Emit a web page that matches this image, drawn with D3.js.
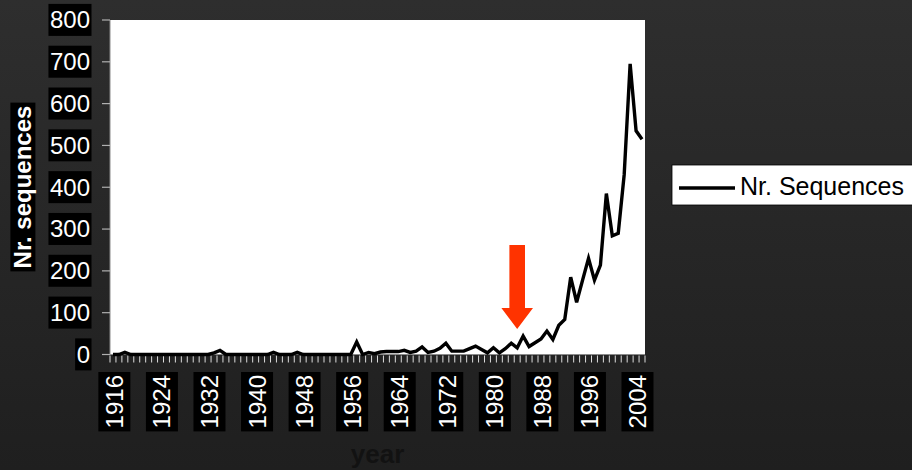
<!DOCTYPE html>
<html>
<head>
<meta charset="utf-8">
<script src="https://cdn.jsdelivr.net/npm/d3@7/dist/d3.min.js"></script>
<style>
  html, body { margin: 0; padding: 0; background: #252525; }
  svg { display: block; }
  text { font-family: "Liberation Sans", Arial, sans-serif; }
</style>
</head>
<body>
<svg id="chart" width="912" height="470"></svg>
<script>
// Number of sequences submitted per year
const years = d3.range(1916, 2006);
const sequences = [
  0, 0, 5, 0, 0, 0, 0, 0, 0, 0,        // 1916-1925
  0, 0, 0, 0, 0, 0, 0, 4, 10, 0,       // 1926-1935
  0, 0, 0, 0, 0, 0, 0, 5, 0, 0,        // 1936-1945
  0, 5, 0, 0, 0, 0, 0, 0, 0, 0,        // 1946-1955
  0, 30, 0, 5, 2, 6, 7, 7, 7, 10,      // 1956-1965
  5, 8, 18, 5, 8, 15, 27, 8, 8, 8,     // 1966-1975
  14, 20, 12, 4, 16, 4, 14, 27, 16, 44, // 1976-1985
  19, 28, 37, 56, 36, 70, 84, 185, 125, 178, // 1986-1995
  230, 178, 214, 385, 284, 290, 430, 695, 535, 515 // 1996-2005
];
const yTicks = [0, 100, 200, 300, 400, 500, 600, 700, 800];
const labelYears = d3.range(1916, 2006, 8);
const seriesName = "Nr. Sequences";
const yTitle = "Nr. sequences";
const xTitle = "year";
// highlighted year and the value span covered by the arrow
const arrowYear = 1984;
const arrowFrom = 262, arrowHeadAt = 111, arrowTo = 61;

const svg = d3.select("#chart");
const W = 912, H = 470;
const plot = { left: 110, right: 645, top: 20, bottom: 354.5 };

// dark backdrop
const defs = svg.append("defs");
const grad = defs.append("linearGradient").attr("id", "bg").attr("x1", 0).attr("y1", 0).attr("x2", 0).attr("y2", 1);
grad.append("stop").attr("offset", "0%").attr("stop-color", "#2e2e2e");
grad.append("stop").attr("offset", "100%").attr("stop-color", "#1f1f1f");
svg.append("rect").attr("width", W).attr("height", H).attr("fill", "url(#bg)");

const x = d3.scaleBand().domain(years).range([plot.left, plot.right]).padding(0);
const y = d3.scaleLinear().domain([0, 800]).range([plot.bottom, plot.top]);
const cx = yr => x(yr) + x.bandwidth() / 2;

// plot area
svg.append("rect")
  .attr("x", plot.left).attr("y", plot.top)
  .attr("width", plot.right - plot.left).attr("height", plot.bottom - plot.top)
  .attr("fill", "#ffffff");

// y axis: ticks and boxed labels
const yAxis = svg.append("g");
yAxis.append("line")
  .attr("x1", plot.left).attr("x2", plot.left)
  .attr("y1", plot.top).attr("y2", plot.bottom)
  .attr("stroke", "#8a8a8a").attr("stroke-width", 1);
yTicks.forEach(v => {
  yAxis.append("line")
    .attr("x1", plot.left - 8).attr("x2", plot.left)
    .attr("y1", y(v)).attr("y2", y(v))
    .attr("stroke", "#b0b0b0").attr("stroke-width", 1.2);
  const g = yAxis.append("g").attr("transform", `translate(90,${y(v)})`);
  const t = g.append("text")
    .attr("text-anchor", "end").attr("dy", "0.35em")
    .attr("font-size", 24).attr("fill", "#ffffff")
    .text(v);
  const b = t.node().getBBox();
  g.insert("rect", "text")
    .attr("x", b.x - 1.5).attr("y", b.y - 2.5)
    .attr("width", b.width + 3).attr("height", b.height + 5)
    .attr("fill", "#000000");
});

// x axis: category tick marks between years
const xAxis = svg.append("g");
xAxis.append("line")
  .attr("x1", plot.left).attr("x2", plot.right)
  .attr("y1", plot.bottom).attr("y2", plot.bottom)
  .attr("stroke", "#8a8a8a").attr("stroke-width", 1);
years.concat([years[years.length - 1] + 1]).forEach((yr, i) => {
  const xp = plot.left + i * x.bandwidth();
  xAxis.append("line")
    .attr("x1", xp).attr("x2", xp)
    .attr("y1", plot.bottom + 1).attr("y2", plot.bottom + 8)
    .attr("stroke", "#dcdcdc").attr("stroke-width", 1);
});
labelYears.forEach(yr => {
  const g = xAxis.append("g").attr("transform", `translate(${cx(yr) + 1.5},375) rotate(-90)`);
  const t = g.append("text")
    .attr("text-anchor", "end").attr("dy", "0.35em")
    .attr("font-size", 24).attr("fill", "#ffffff")
    .text(yr);
  const b = t.node().getBBox();
  g.insert("rect", "text")
    .attr("x", b.x - 3).attr("y", b.y - 2.5)
    .attr("width", b.width + 6).attr("height", b.height + 5)
    .attr("fill", "#000000");
});

// axis titles
const yt = svg.append("g").attr("transform", "translate(23,187) rotate(-90)");
const ytText = yt.append("text")
  .attr("text-anchor", "middle").attr("dy", "0.35em")
  .attr("font-size", 24).attr("font-weight", "bold").attr("fill", "#ffffff")
  .text(yTitle);
const ytb = ytText.node().getBBox();
yt.insert("rect", "text")
  .attr("x", ytb.x - 3).attr("y", ytb.y + 1)
  .attr("width", ytb.width + 6).attr("height", ytb.height - 2)
  .attr("fill", "#000000");

svg.append("text")
  .attr("x", (plot.left + plot.right) / 2).attr("y", 463)
  .attr("text-anchor", "middle")
  .attr("font-size", 26).attr("font-weight", "bold").attr("fill", "#121212")
  .text(xTitle);

// data line
const line = d3.line()
  .x((d, i) => cx(years[i]))
  .y(d => y(d));
svg.append("path")
  .datum(sequences)
  .attr("d", line)
  .attr("fill", "none")
  .attr("stroke", "#000000")
  .attr("stroke-width", 3.4)
  .attr("stroke-linejoin", "miter");

// arrow marking the highlighted year
const ax = cx(arrowYear);
const shaftHalf = 7.8, headHalf = 15.8;
svg.append("path")
  .attr("d", [
    ["M", ax - shaftHalf, y(arrowFrom)],
    ["L", ax + shaftHalf, y(arrowFrom)],
    ["L", ax + shaftHalf, y(arrowHeadAt)],
    ["L", ax + headHalf, y(arrowHeadAt)],
    ["L", ax, y(arrowTo)],
    ["L", ax - headHalf, y(arrowHeadAt)],
    ["L", ax - shaftHalf, y(arrowHeadAt)],
    ["Z"]
  ].map(s => s.join(" ")).join(" "))
  .attr("fill", "#ff3300");

// legend
const lg = svg.append("g").attr("transform", "translate(672,165)");
lg.append("rect")
  .attr("x", 0).attr("y", 0).attr("width", 260).attr("height", 40)
  .attr("fill", "#ffffff").attr("stroke", "#000000").attr("stroke-width", 0.8);
lg.append("line")
  .attr("x1", 7).attr("x2", 63).attr("y1", 23).attr("y2", 23)
  .attr("stroke", "#000000").attr("stroke-width", 3.4);
lg.append("text")
  .attr("x", 68).attr("y", 29.5)
  .attr("font-size", 25).attr("fill", "#000000")
  .text(seriesName);
</script>
</body>
</html>
